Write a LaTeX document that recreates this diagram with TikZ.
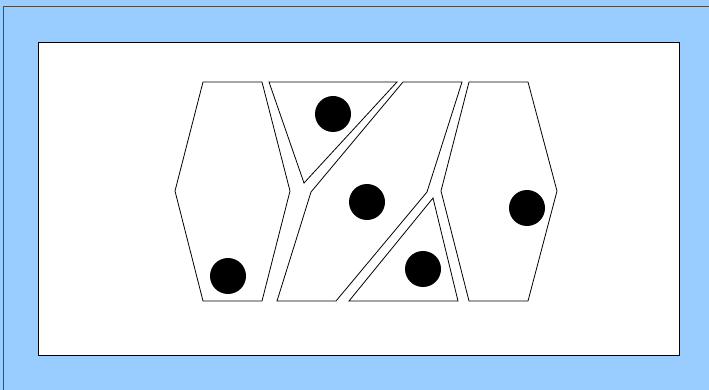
\documentclass[tikz,border=0pt]{standalone}
\begin{document}
\begin{tikzpicture}[x=1pt,y=-1pt,
  piece/.style={draw=black,line width=0.8pt,fill=white,line join=miter},
  ball/.style={circle,fill=black,inner sep=0pt,minimum size=36pt}]
\useasboundingbox (0,0) rectangle (709,390);
\definecolor{skyb}{RGB}{153,204,255}
\fill[skyb] (0,0) rectangle (709,390);
\draw[draw=black!70,line width=1pt] (3,390) -- (3,7) -- (709,7);
\draw[fill=white,draw=black,line width=1pt] (38,43) rectangle (679,355);
% left hexagon
\draw[piece] (203,82) -- (262,82) -- (290,191) -- (262,301) -- (203,301) -- (175,191) -- cycle;
% top-left triangle
\draw[piece] (269,82) -- (397,82) -- (304,183) -- cycle;
% middle piece
\draw[piece] (403,82) -- (462,82) -- (427,192) -- (336,301) -- (277,301) -- (311,192) -- cycle;
% bottom-right triangle
\draw[piece] (433,198) -- (458,301) -- (349,301) -- cycle;
% right hexagon
\draw[piece] (469,82) -- (528,82) -- (557,191) -- (528,301) -- (469,301) -- (441,191) -- cycle;
% balls
\node[ball] (b1) at (228,276) {};
\node[ball] (b2) at (333,114) {};
\node[ball] (b3) at (367,202) {};
\node[ball] (b4) at (423,269) {};
\node[ball] (b5) at (527,208) {};
\end{tikzpicture}
\end{document}
